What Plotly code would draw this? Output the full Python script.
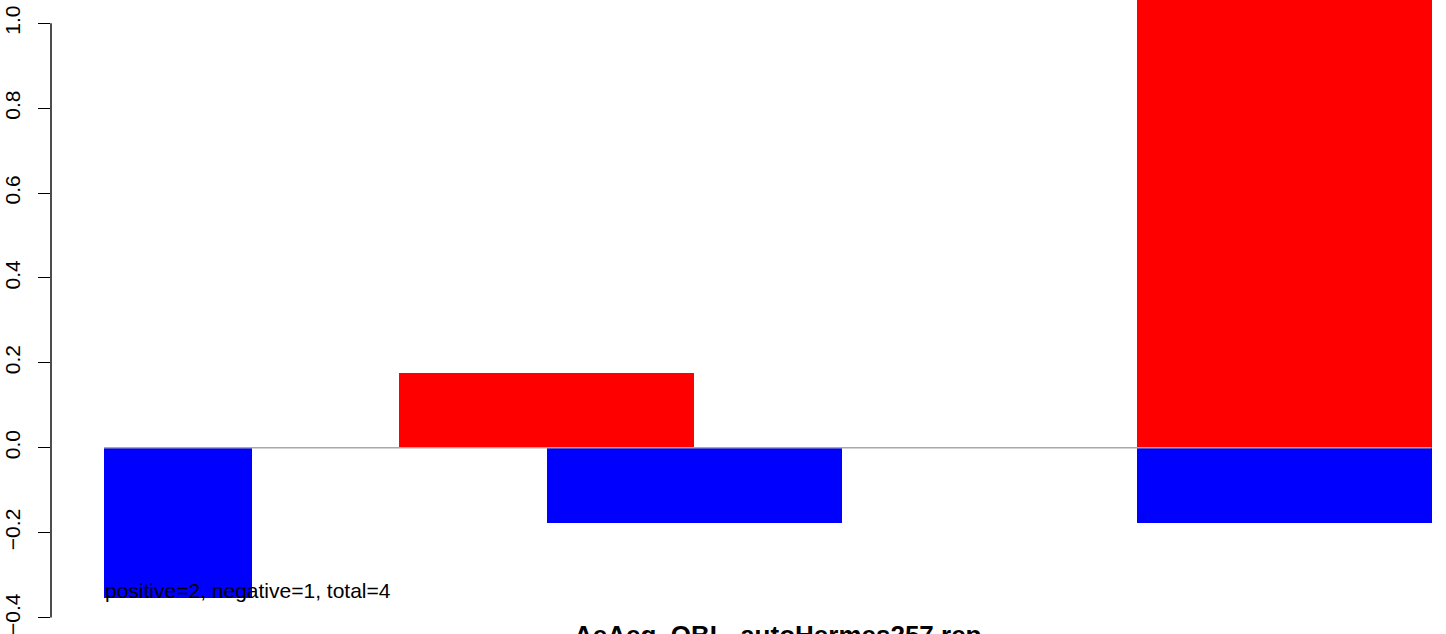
import plotly.graph_objects as go

# Data
blue_x = [0.5, 4.0, 8.0]
blue_w = [1.0, 2.0, 2.0]
blue_y = [-0.3536, -0.1768, -0.1768]

red_x = [3.0, 8.0]
red_w = [2.0, 2.0]
red_y = [0.1768, 1.25]

ytick_vals = [-0.4, -0.2, 0.0, 0.2, 0.4, 0.6, 0.8, 1.0]
ytick_text = ["\u22120.4", "\u22120.2", "0.0", "0.2", "0.4", "0.6", "0.8", "1.0"]

baseline_x = [0.0, 9.0]
baseline_y = [0.0, 0.0]

title_text = "AeAeg_OBL_autoHermes257.rep"
note_text = "positive=2, negative=1, total=4"

FONT = "Liberation Sans, Arial, sans-serif"

fig = go.Figure()
fig.add_trace(go.Bar(x=red_x, y=red_y, width=red_w, marker=dict(color="#FF0000", line=dict(width=0)),
                     showlegend=False))
fig.add_trace(go.Bar(x=blue_x, y=blue_y, width=blue_w, marker=dict(color="#0000FF", line=dict(width=0)),
                     showlegend=False))
fig.add_trace(go.Scatter(x=baseline_x, y=baseline_y, mode="lines",
                         line=dict(color="#A9A9A9", width=1.5), showlegend=False, hoverinfo="skip"))

# y axis line spanning first to last tick (R style)
fig.add_shape(type="line", xref="paper", yref="y", x0=0, x1=0, y0=min(ytick_vals), y1=max(ytick_vals),
              line=dict(color="black", width=1.4), layer="above")

fig.add_annotation(text=note_text, xref="x", yref="y", x=0, y=blue_y[0], xanchor="left", yanchor="bottom",
                   showarrow=False, borderpad=0, yshift=-5,
                   font=dict(family=FONT, size=21, color="black"))

fig.add_annotation(text="<b>" + title_text + "</b>", xref="paper", yref="paper", x=0.5208, y=0,
                   xanchor="center", yanchor="top", showarrow=False, yshift=16,
                   font=dict(family=FONT, size=26, color="black"))

fig.update_layout(
    width=1446, height=634,
    margin=dict(l=51, r=0, t=0, b=0, autoexpand=False),
    paper_bgcolor="white", plot_bgcolor="white",
    barmode="overlay", bargap=0,
    font=dict(family=FONT, size=21, color="black"),
    xaxis=dict(range=[-0.3593, 9.098], visible=False, showgrid=False, zeroline=False, automargin=False),
    yaxis=dict(range=[-0.439, 1.0549], tickmode="array", tickvals=ytick_vals, ticktext=ytick_text,
               ticks="outside", ticklen=12, tickwidth=1.4, tickcolor="black", tickangle=-90,
               ticklabelstandoff=10, ticklabeloverflow="allow", automargin=False,
               showline=False, showgrid=False, zeroline=False,
               tickfont=dict(family=FONT, size=21, color="black")),
)

fig.write_html("out.html", config={"displayModeBar": False},
               post_script="document.body.style.margin='0';document.body.style.padding='0';"
                           "document.body.style.overflow='hidden';")
